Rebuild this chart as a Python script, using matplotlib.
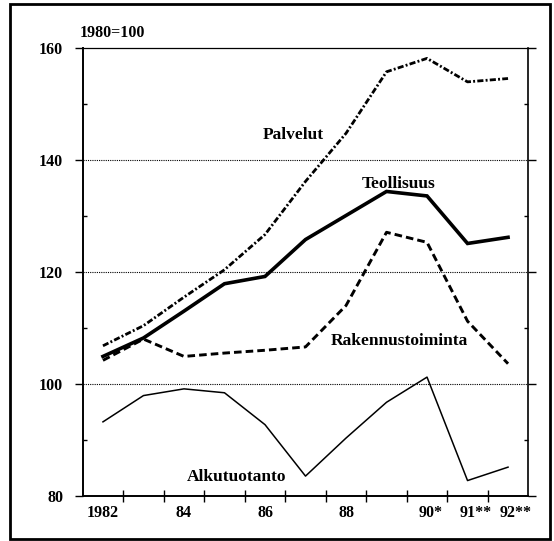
import matplotlib
matplotlib.use("Agg")
import matplotlib.pyplot as plt
from matplotlib.patches import Rectangle
from matplotlib.ticker import FixedLocator, NullFormatter
from matplotlib.transforms import blended_transform_factory, offset_copy

years = [1982, 1983, 1984, 1985, 1986, 1987, 1988, 1989, 1990, 1991, 1992]
palvelut = [106.8, 110.4, 115.5, 120.4, 126.7, 136.2, 144.8, 155.8, 158.2, 154.0, 154.6]
teollisuus = [104.9, 108.2, 113.0, 117.9, 119.2, 125.8, 130.1, 134.4, 133.6, 125.1, 126.2]
rakennustoiminta = [104.2, 108.0, 104.9, 105.5, 106.0, 106.6, 114.0, 127.1, 125.3, 111.2, 103.6]
alkutuotanto = [93.2, 97.9, 99.1, 98.4, 92.7, 83.5, 90.3, 96.7, 101.2, 82.7, 85.1]

xtick_years = [1982, 1984, 1986, 1988, 1990, 1991, 1992]
xtick_digits = ["1982", "84", "86", "88", "90", "91", "92"]
xtick_marks = ["", "", "", "", "*", "**", "**"]
ytick_major = [80, 100, 120, 140, 160]
ytick_minor = [90, 110, 130, 150]

SERIF = ["Liberation Serif", "DejaVu Serif"]
TICK_FS = 11.5

fig = plt.figure(figsize=(5.54, 5.41), dpi=100)
ax = fig.add_axes([0.1493, 0.0838, 0.8043, 0.8269])

ax.plot(years, palvelut, color="black", lw=2.0, linestyle=(0, (2.2, 0.8, 0.7, 0.8)))
ax.plot(years, teollisuus, color="black", lw=2.6, solid_joinstyle="miter")
ax.plot(years, rakennustoiminta, color="black", lw=2.1, linestyle=(0, (2.6, 1.4)))
ax.plot(years, alkutuotanto, color="black", lw=1.1)

ax.set_xlim(1981.5, 1992.5)
ax.set_ylim(80, 160)

# y axis
ax.set_yticks(ytick_major)
ax.set_yticklabels([str(v) for v in ytick_major])
ax.yaxis.set_minor_locator(FixedLocator(ytick_minor))
ax.tick_params(axis="y", which="major", direction="out", length=6, width=1, pad=8,
               right=True, labelright=False)
ax.tick_params(axis="y", which="minor", direction="in", length=3, width=1,
               left=True, right=True)
for v in [100, 120, 140]:
    ax.axhline(v, color="black", lw=0.8, linestyle=(0, (1, 1)), zorder=0)

for lab in ax.get_yticklabels():
    lab.set_family(SERIF)
    lab.set_fontweight("bold")
    lab.set_fontsize(TICK_FS)

# x axis: tick marks at year boundaries, labels centred on the year (digits centred)
ax.set_xticks([])
ax.xaxis.set_minor_locator(FixedLocator([y + 0.5 for y in years[:-1]]))
ax.xaxis.set_minor_formatter(NullFormatter())
ax.tick_params(axis="x", which="minor", direction="inout", length=8, width=1)

trans = blended_transform_factory(ax.transData, ax.transAxes)
for yr, dig, mark in zip(xtick_years, xtick_digits, xtick_marks):
    half_w = 0.5 * 0.5 * TICK_FS * len(dig)  # half width of digits in points
    t = offset_copy(trans, fig=fig, x=-half_w, y=-7, units="points")
    ax.text(yr, 0, dig + mark, transform=t, ha="left", va="top",
            family=SERIF, fontweight="bold", fontsize=TICK_FS, clip_on=False)

for s in ["left", "bottom"]:
    ax.spines[s].set_linewidth(1.4)
ax.spines["right"].set_linewidth(1.2)
ax.spines["top"].set_linewidth(0.9)

# series labels
lab_kw = dict(family=SERIF, fontweight="bold", fontsize=12.5, ha="center", va="baseline")
ax.text(1986.69, 143.75, "Palvelut", **lab_kw)
ax.text(1989.29, 135.1, "Teollisuus", **lab_kw)
ax.text(1989.31, 107.0, "Rakennustoiminta", **lab_kw)
ax.text(1985.30, 82.55, "Alkutuotanto", **lab_kw)

fig.text(0.1433, 0.931, "1980=100", family=SERIF, fontweight="bold", fontsize=11.5,
         ha="left", va="baseline")

# outer frame
fig.patches.append(Rectangle((0.018, 0.004), 0.974, 0.988, transform=fig.transFigure,
                             fill=False, edgecolor="black", lw=2))

fig.savefig("out.png", dpi=100)
